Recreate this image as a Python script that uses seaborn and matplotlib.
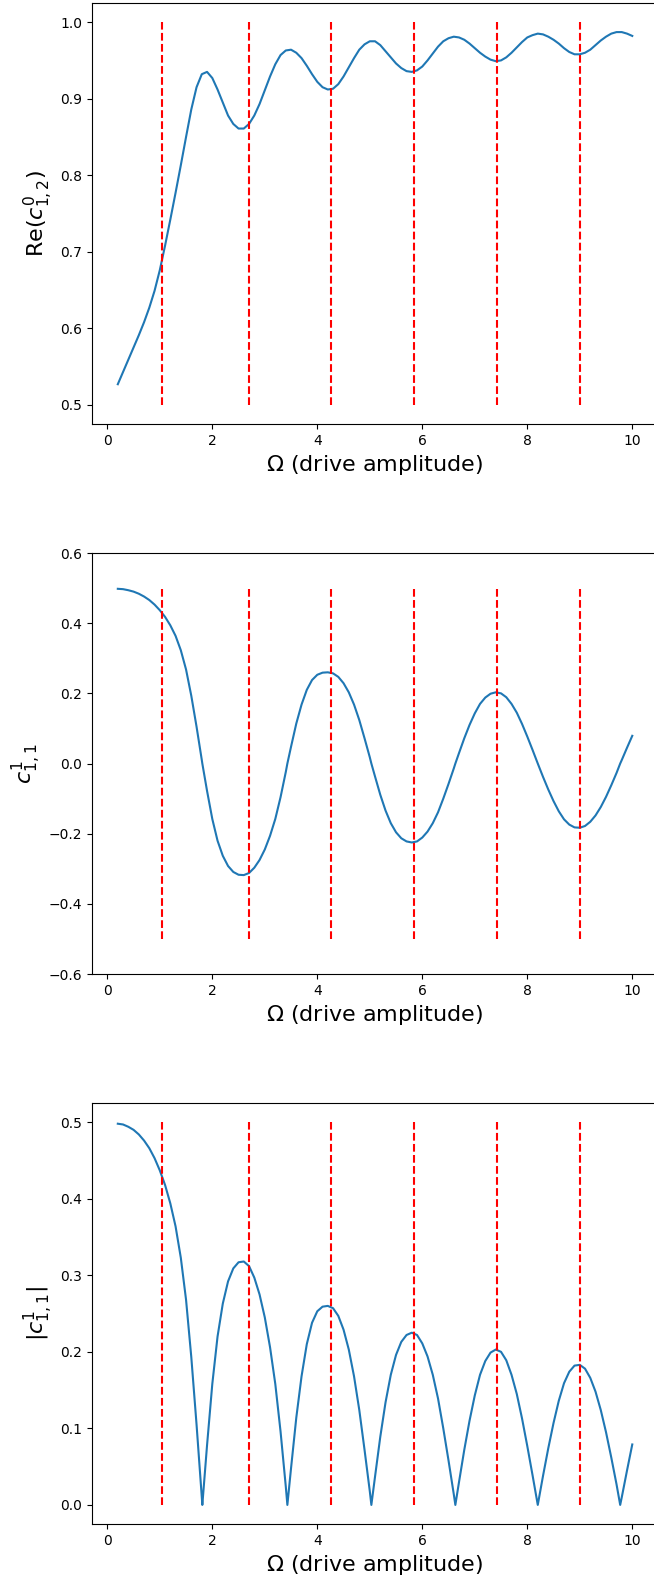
import numpy as np
import pandas as pd
import matplotlib
matplotlib.use("Agg")
import matplotlib.pyplot as plt
import seaborn as sns

# ---------------- data ----------------
omega = [0.2, 0.3, 0.4, 0.5, 0.6, 0.7, 0.8, 0.9, 1.0,
         1.1, 1.2, 1.3, 1.4, 1.5, 1.6, 1.7, 1.8, 1.9, 2.0,
         2.1, 2.2, 2.3, 2.4, 2.5, 2.6, 2.7, 2.8, 2.9, 3.0,
         3.1, 3.2, 3.3, 3.4, 3.5, 3.6, 3.7, 3.8, 3.9, 4.0,
         4.1, 4.2, 4.3, 4.4, 4.5, 4.6, 4.7, 4.8, 4.9, 5.0,
         5.1, 5.2, 5.3, 5.4, 5.5, 5.6, 5.7, 5.8, 5.9, 6.0,
         6.1, 6.2, 6.3, 6.4, 6.5, 6.6, 6.7, 6.8, 6.9, 7.0,
         7.1, 7.2, 7.3, 7.4, 7.5, 7.6, 7.7, 7.8, 7.9, 8.0,
         8.1, 8.2, 8.3, 8.4, 8.5, 8.6, 8.7, 8.8, 8.9, 9.0,
         9.1, 9.2, 9.3, 9.4, 9.5, 9.6, 9.7, 9.8, 9.9, 10.0]

re_c0_12 = [0.527, 0.543, 0.559, 0.575, 0.591, 0.608, 0.627, 0.649, 0.676,
            0.708, 0.742, 0.777, 0.813, 0.850, 0.886, 0.915, 0.932, 0.935, 0.927,
            0.912, 0.895, 0.878, 0.867, 0.861, 0.861, 0.867, 0.878, 0.893, 0.911,
            0.929, 0.945, 0.957, 0.963, 0.964, 0.960, 0.953, 0.943, 0.932, 0.922,
            0.915, 0.912, 0.913, 0.919, 0.929, 0.941, 0.953, 0.964, 0.971, 0.975,
            0.975, 0.970, 0.962, 0.954, 0.946, 0.940, 0.936, 0.935, 0.937, 0.942,
            0.950, 0.959, 0.968, 0.975, 0.979, 0.981, 0.980, 0.977, 0.972, 0.966,
            0.960, 0.955, 0.951, 0.949, 0.950, 0.954, 0.960, 0.967, 0.974, 0.980,
            0.983, 0.985, 0.984, 0.981, 0.977, 0.972, 0.966, 0.961, 0.958, 0.958,
            0.960, 0.964, 0.970, 0.976, 0.981, 0.985, 0.987, 0.987, 0.985, 0.982]

c1_11 = [0.498, 0.497, 0.494, 0.490, 0.484, 0.476, 0.466, 0.453, 0.437,
         0.418, 0.394, 0.364, 0.323, 0.268, 0.193, 0.105, 0.010, -0.078, -0.158,
         -0.220, -0.263, -0.292, -0.309, -0.317, -0.318, -0.312, -0.297, -0.275, -0.245,
         -0.206, -0.158, -0.096, -0.024, 0.048, 0.114, 0.168, 0.210, 0.238, 0.253,
         0.259, 0.260, 0.257, 0.247, 0.229, 0.203, 0.168, 0.124, 0.072, 0.018,
         -0.037, -0.089, -0.134, -0.170, -0.196, -0.213, -0.222, -0.225, -0.222, -0.211,
         -0.194, -0.170, -0.139, -0.100, -0.058, -0.014, 0.030, 0.072, 0.110, 0.143,
         0.170, 0.188, 0.199, 0.203, 0.200, 0.189, 0.170, 0.145, 0.113, 0.077,
         0.039, 0.000, -0.038, -0.074, -0.107, -0.136, -0.159, -0.174, -0.182, -0.183,
         -0.178, -0.166, -0.148, -0.124, -0.095, -0.062, -0.027, 0.010, 0.045, 0.079]

abs_c1_11 = [0.498, 0.497, 0.494, 0.490, 0.484, 0.476, 0.466, 0.453, 0.437,
             0.418, 0.394, 0.364, 0.323, 0.268, 0.193, 0.105, 0.010, 0.078, 0.158,
             0.220, 0.263, 0.292, 0.309, 0.317, 0.318, 0.312, 0.297, 0.275, 0.245,
             0.206, 0.158, 0.096, 0.024, 0.048, 0.114, 0.168, 0.210, 0.238, 0.253,
             0.259, 0.260, 0.257, 0.247, 0.229, 0.203, 0.168, 0.124, 0.072, 0.018,
             0.037, 0.089, 0.134, 0.170, 0.196, 0.213, 0.222, 0.225, 0.222, 0.211,
             0.194, 0.170, 0.139, 0.100, 0.058, 0.014, 0.030, 0.072, 0.110, 0.143,
             0.170, 0.188, 0.199, 0.203, 0.200, 0.189, 0.170, 0.145, 0.113, 0.077,
             0.039, 0.000, 0.038, 0.074, 0.107, 0.136, 0.159, 0.174, 0.182, 0.183,
             0.178, 0.166, 0.148, 0.124, 0.095, 0.062, 0.027, 0.010, 0.045, 0.079]

# zero crossings of c^1_{1,1} (cusps of |c^1_{1,1}|)
omega_zero = [1.81, 3.43, 5.03, 6.63, 8.20, 9.77]
value_zero = [0.0, 0.0, 0.0, 0.0, 0.0, 0.0]

# dashed reference lines
vline_omega = [1.05, 2.69, 4.27, 5.85, 7.43, 9.00]

xlabel = r"$\Omega$ (drive amplitude)"
ylabels = [r"Re($c^0_{1,2}$)", r"$c^1_{1,1}$", r"$|c^1_{1,1}|$"]
vline_spans = [(0.5, 1.0), (-0.5, 0.5), (0.0, 0.5)]

# ---------------- build tables ----------------
df_top = pd.DataFrame({"omega": omega, "val": re_c0_12})


def with_zeros(vals):
    d = pd.DataFrame({"omega": omega, "val": vals})
    z = pd.DataFrame({"omega": omega_zero, "val": value_zero})
    d = pd.concat([d, z]).drop_duplicates("omega", keep="last")
    return d.sort_values("omega").reset_index(drop=True)


df_mid = with_zeros(c1_11)
df_bot = with_zeros(abs_c1_11)

# ---------------- figure ----------------
fig, axes = plt.subplots(3, 1, figsize=(6.54, 15.80), dpi=100)
fig.subplots_adjust(left=0.1408, right=1.0061, bottom=0.0354, top=0.9981,
                    hspace=0.3064)

for ax, df, ylab, (y0, y1) in zip(axes, [df_top, df_mid, df_bot], ylabels,
                                   vline_spans):
    sns.lineplot(data=df, x="omega", y="val", ax=ax, color="#1f77b4",
                 linewidth=1.5, sort=False, estimator=None)
    ax.vlines(vline_omega, y0, y1, colors="red", linestyles="dashed",
              linewidth=1.5, zorder=3)
    ax.set_xlabel(xlabel, fontsize=16)
    ax.set_ylabel(ylab, fontsize=16)
    ax.tick_params(labelsize=10)

axes[1].set_ylim(-0.6, 0.6)
for ax in axes:
    ax.set_xticks([0, 2, 4, 6, 8, 10])

fig.savefig("out.png", dpi=100)
